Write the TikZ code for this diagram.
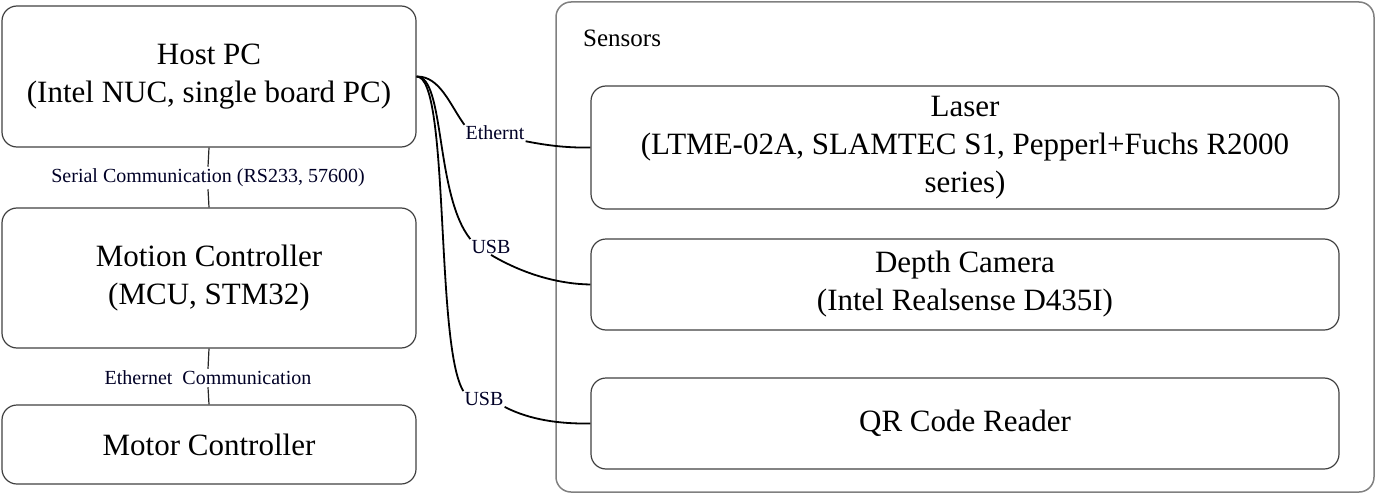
\documentclass[tikz,border=0pt]{standalone}
\usepackage{fontspec}
\setmainfont{Liberation Serif}
\begin{document}
\begin{tikzpicture}[x=1pt,y=-1pt,
  box/.style={draw=black!75,line width=1.2pt,rounded corners=15pt,align=center,inner sep=0pt,
    font=\fontsize{31}{38}\selectfont},
  cont/.style={draw=black!50,line width=1.5pt,rounded corners=15pt,inner sep=0pt},
  small/.style={font=\fontsize{20}{22}\selectfont,inner sep=2pt,text=black!85!blue},
  wire/.style={line width=1.2pt,black!85},
  cable/.style={line width=1.8pt,black}]
\useasboundingbox (0,0) rectangle (1376,495);
\node[cont,minimum width=818pt,minimum height=490pt] (sensors) at (965,247) {};
\node[anchor=west,font=\fontsize{25}{27}\selectfont,inner sep=0pt] (stitle) at (583,38) {Sensors};
\node[box,minimum width=414pt,minimum height=141pt] (host) at (209,76.5) {Host PC\\(Intel NUC, single board PC)};
\node[box,minimum width=414pt,minimum height=140pt] (motion) at (209,278) {Motion Controller\\(MCU, STM32)};
\node[box,minimum width=414pt,minimum height=79pt] (motor) at (209,444.5) {Motor Controller};
\node[box,minimum width=748pt,minimum height=123pt] (laser) at (965,147.5) {Laser\\(LTME-02A, SLAMTEC S1, Pepperl+Fuchs R2000\\series)};
\node[box,minimum width=748pt,minimum height=91pt] (depth) at (965,284.5) {Depth Camera\\(Intel Realsense D435I)};
\node[box,minimum width=748pt,minimum height=91pt] (qr) at (965,423.5) {QR Code Reader};
\node[small] (serial) at (208,178) {Serial Communication (RS233, 57600)};
\node[small] (eth) at (208,378) {Ethernet\ \ Communication};
\draw[wire] (host.south) -- (serial.north);
\draw[wire] (serial.south) -- (motion.north);
\draw[wire] (motion.south) -- (eth.north);
\draw[wire] (eth.south) -- (motor.north);
\node[small,inner sep=1pt] (e1) at (495,133) {Ethernt};
\node[small,inner sep=1pt] (u1) at (491,247) {USB};
\node[small,inner sep=1pt] (u2) at (484,399) {USB};
\draw[cable] (host.east) .. controls (440,76) and (450,105) .. (e1.north west);
\draw[cable] (e1.south east) .. controls (545,145) and (565,148) .. (laser.west);
\draw[cable] (host.east) .. controls (445,76) and (435,195) .. (u1.north west);
\draw[cable] (u1.south) .. controls (525,275) and (560,284) .. (depth.west);
\draw[cable] (host.east) .. controls (450,76) and (435,345) .. (u2.north west);
\draw[cable] (u2.south east) .. controls (530,420) and (560,424) .. (qr.west);
\end{tikzpicture}
\end{document}
